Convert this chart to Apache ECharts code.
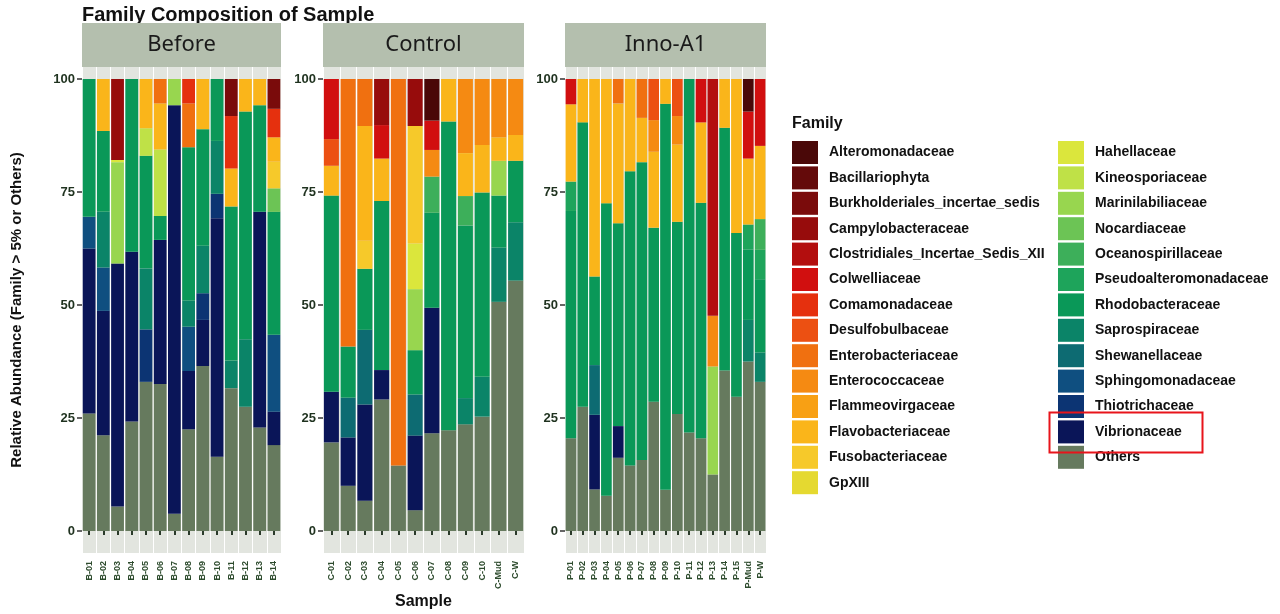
<!DOCTYPE html>
<html>
<head>
<meta charset="utf-8">
<script src="https://cdn.jsdelivr.net/npm/echarts@6/dist/echarts.min.js"></script>
<style>
html,body{margin:0;padding:0;background:#fff;}
#chart{width:1280px;height:614px;}
</style>
</head>
<body>
<div id="chart"></div>
<script>
// ---------- DATA ----------
const families = ['Alteromonadaceae','Bacillariophyta','Burkholderiales_incertae_sedis','Campylobacteraceae','Clostridiales_Incertae_Sedis_XII','Colwelliaceae','Comamonadaceae','Desulfobulbaceae','Enterobacteriaceae','Enterococcaceae','Flammeovirgaceae','Flavobacteriaceae','Fusobacteriaceae','GpXIII','Hahellaceae','Kineosporiaceae','Marinilabiliaceae','Nocardiaceae','Oceanospirillaceae','Pseudoalteromonadaceae','Rhodobacteraceae','Saprospiraceae','Shewanellaceae','Sphingomonadaceae','Thiotrichaceae','Vibrionaceae','Others'];
const familyCodes = ['Alte','Baci','Burk','Camp','Clos','Colw','Coma','Desu','Ente','Entc','Flam','Flav','Fuso','GpX','Hahe','Kine','Mari','Noca','Ocea','Pseu','Rhod','Sapr','Shew','Sphi','Thio','Vib','Oth'];
const familyColors = ['#4a0808','#640a0a','#7a0b0b','#970c0c','#b30e0e','#d10f0f','#e5300e','#ec5012','#f07010','#f58a12','#f8a014','#fab51a','#f6c92a','#e5d930','#dbe63c','#bfe147','#98d64f','#6cc455','#3daf5a','#1ea45b','#0a9858','#0b8468','#0d6b72','#0f4f80','#0c3473','#0a1558','#667a5e'];

const panelNames = ['Before','Control','Inno-A1'];

const beforeSamples = ['B-01','B-02','B-03','B-04','B-05','B-06','B-07','B-08','B-09','B-10','B-11','B-12','B-13','B-14'];
const controlSamples = ['C-01','C-02','C-03','C-04','C-05','C-06','C-07','C-08','C-09','C-10','C-Mud','C-W'];
const innoSamples = ['P-01','P-02','P-03','P-04','P-05','P-06','P-07','P-08','P-09','P-10','P-11','P-12','P-13','P-14','P-15','P-Mud','P-W'];

// each bar: [familyCode, percent] segments
const beforeBars = [
  [['Oth',26],['Vib',36.5],['Sphi',7],['Rhod',30.5]],
  [['Oth',21.2],['Vib',27.5],['Sphi',9.6],['Sapr',12.3],['Rhod',17.9],['Flav',11.5]],
  [['Oth',5.4],['Vib',53.8],['Hahe',0.5],['Mari',22.4],['Camp',17.9]],
  [['Oth',24.2],['Vib',37.6],['Rhod',38.2]],
  [['Oth',33],['Thio',11.6],['Sapr',13.5],['Rhod',24.9],['Kine',6.1],['Flav',10.9]],
  [['Oth',32.5],['Vib',31.9],['Rhod',5.3],['Kine',14.7],['Flav',10.2],['Ente',5.4]],
  [['Oth',3.8],['Vib',90.4],['Mari',5.8]],
  [['Oth',22.5],['Vib',12.9],['Sphi',9.8],['Sapr',5.8],['Rhod',33.9],['Ente',9.7],['Coma',5.4]],
  [['Oth',36.5],['Vib',10.2],['Thio',5.9],['Sapr',10.5],['Rhod',25.8],['Flav',11.1]],
  [['Oth',16.4],['Vib',52.8],['Thio',5.4],['Sapr',11.7],['Rhod',13.7]],
  [['Oth',31.6],['Sapr',6.1],['Rhod',34.1],['Flav',8.4],['Coma',11.6],['Burk',8.2]],
  [['Oth',27.5],['Sapr',14.9],['Rhod',50.4],['Flav',7.2]],
  [['Oth',22.9],['Vib',47.7],['Rhod',23.6],['Flav',5.8]],
  [['Oth',19],['Vib',7.4],['Sphi',17],['Rhod',27.2],['Noca',5.2],['Fuso',5.9],['Flav',5.4],['Coma',6.3],['Burk',6.6]]
];
const controlBars = [
  [['Oth',19.6],['Vib',11.2],['Rhod',43.4],['Flav',6.6],['Desu',5.9],['Colw',13.3]],
  [['Oth',10],['Vib',10.7],['Shew',8.8],['Rhod',11.3],['Ente',59.2]],
  [['Oth',6.7],['Vib',21.3],['Shew',16.5],['Rhod',13.5],['Fuso',6.2],['Flav',25.4],['Ente',10.4]],
  [['Oth',29.1],['Vib',6.5],['Rhod',37.4],['Flav',9.4],['Colw',7.4],['Camp',10.2]],
  [['Oth',14.5],['Ente',85.5]],
  [['Oth',4.6],['Vib',16.5],['Shew',9.1],['Rhod',9.8],['Mari',13.5],['Hahe',10.1],['Fuso',26],['Camp',10.4]],
  [['Oth',21.6],['Vib',27.8],['Rhod',21],['Ocea',8],['Entc',5.9],['Colw',6.5],['Alte',9.2]],
  [['Oth',22.3],['Rhod',68.3],['Flav',9.4]],
  [['Oth',23.6],['Sapr',5.8],['Rhod',38.2],['Ocea',6.5],['Flav',9.5],['Entc',16.4]],
  [['Oth',25.3],['Sapr',8.8],['Rhod',40.8],['Flav',10.5],['Entc',14.6]],
  [['Oth',50.7],['Sapr',12],['Rhod',11.5],['Mari',7.7],['Flav',5.2],['Entc',12.9]],
  [['Oth',55.4],['Sapr',12.9],['Rhod',13.6],['Flav',5.7],['Entc',12.4]]
];
const innoBars = [
  [['Oth',20.5],['Rhod',50.3],['Pseu',6.5],['Flav',17.1],['Colw',5.6]],
  [['Oth',27.5],['Rhod',62.9],['Flav',9.6]],
  [['Oth',9.2],['Vib',16.5],['Shew',11],['Rhod',19.6],['Flav',43.7]],
  [['Oth',7.8],['Rhod',64.7],['Flav',27.5]],
  [['Oth',16.2],['Vib',7],['Rhod',44.9],['Flav',26.5],['Ente',5.4]],
  [['Oth',14.5],['Rhod',65.1],['Flav',20.4]],
  [['Oth',15.7],['Rhod',65.9],['Flav',9.8],['Ente',8.6]],
  [['Oth',28.6],['Rhod',38.5],['Flav',16.8],['Entc',7],['Desu',9.1]],
  [['Oth',9.1],['Rhod',85.4],['Flav',5.5]],
  [['Oth',25.9],['Rhod',42.5],['Flav',17.1],['Entc',6.3],['Desu',8.2]],
  [['Oth',21.8],['Rhod',78.2]],
  [['Oth',20.5],['Rhod',52.1],['Flav',17.8],['Colw',9.6]],
  [['Oth',12.5],['Mari',23.9],['Entc',11.2],['Clos',52.4]],
  [['Oth',35.5],['Rhod',53.7],['Flav',10.8]],
  [['Oth',29.7],['Rhod',36.2],['Flav',34.1]],
  [['Oth',37.5],['Sapr',9.2],['Rhod',15.6],['Pseu',5.5],['Flav',14.6],['Colw',10.4],['Alte',7.2]],
  [['Oth',33],['Sapr',6.5],['Rhod',16.2],['Pseu',6.5],['Ocea',6.8],['Flav',16.2],['Colw',14.8]]
];

const yTicks = [0, 25, 50, 75, 100];

// ---------- LAYOUT ----------
const panels = [
  {samples: beforeSamples, bars: beforeBars, left: 82, width: 199},
  {samples: controlSamples, bars: controlBars, left: 323, width: 201},
  {samples: innoSamples, bars: innoBars, left: 565, width: 201}
];
const gridTop = 67, gridBottom = 61;
const labelColor = '#1f321f';
const baseFont = "'Liberation Sans', Arial, sans-serif";

const grids = [], xAxes = [], yAxes = [], series = [], graphics = [];
panels.forEach((p, pi) => {
  grids.push({left: p.left, width: p.width, top: gridTop, bottom: gridBottom, show: true,
    backgroundColor: '#e2e5df', borderWidth: 0, containLabel: false, outerBoundsMode: 'none'});
  xAxes.push({
    type: 'category', gridIndex: pi, data: p.samples,
    axisLine: {show: false},
    axisTick: {show: true, alignWithLabel: true, length: 4, lineStyle: {color: '#2a3a2a', width: 2}},
    axisLabel: {rotate: 90, fontSize: 9, fontWeight: 'bold', color: '#2d4b2d', margin: 8, fontFamily: baseFont},
    splitLine: {show: true, interval: 0, lineStyle: {color: '#ffffff', width: 1}},
    name: pi === 1 ? 'Sample' : '', nameLocation: 'middle', nameGap: 41, nameMoveOverlap: false,
    nameTextStyle: {fontSize: 16, fontWeight: 'bold', color: '#111', fontFamily: baseFont}
  });
  yAxes.push({
    type: 'value', gridIndex: pi, min: -4.87, max: 102.65,
    axisLine: {show: false},
    axisTick: {show: true, customValues: yTicks, length: 5, lineStyle: {color: '#333', width: 1.5}},
    axisLabel: {customValues: yTicks, fontSize: 13, fontWeight: 'bold', color: labelColor, margin: 7, fontFamily: baseFont},
    splitLine: {show: false},
    name: pi === 0 ? 'Relative Abundance (Family > 5% or Others)' : '',
    nameLocation: 'middle', nameGap: 58, nameMoveOverlap: false,
    nameTextStyle: {fontSize: 15, fontWeight: 'bold', color: '#111', fontFamily: baseFont}
  });
  // stacked series, bottom (Others) to top (Alteromonadaceae)
  for (let fi = families.length - 1; fi >= 0; fi--) {
    const code = familyCodes[fi];
    const data = p.bars.map(bar => {
      const seg = bar.find(s => s[0] === code);
      return seg ? seg[1] : '-';
    });
    series.push({
      name: families[fi], type: 'bar', stack: 'panel' + pi,
      xAxisIndex: pi, yAxisIndex: pi, barCategoryGap: '10%',
      itemStyle: {color: familyColors[fi]},
      emphasis: {disabled: true},
      data: data
    });
  }
  // facet strip
  graphics.push({type: 'rect', left: p.left, top: 23, z: 100,
    shape: {width: p.width, height: 44}, style: {fill: '#b4bfae'}});
  graphics.push({type: 'text', z: 101, x: p.left + p.width / 2, y: 45,
    style: {text: panelNames[pi], fill: '#1a1a1a', font: "22px 'Noto Sans', sans-serif",
      textAlign: 'center', textVerticalAlign: 'middle'}});
});

// highlight box around Vibrionaceae legend entry
graphics.push({type: 'rect', left: 1047, top: 410, z: 100,
  shape: {width: 153, height: 40}, style: {fill: 'none', stroke: '#e8141b', lineWidth: 2}});

const legendCommon = {
  orient: 'vertical', itemWidth: 26, itemHeight: 23, itemGap: 2.4, padding: 0,
  icon: 'rect', selectedMode: false,
  textStyle: {fontSize: 14, fontWeight: 'bold', color: '#111', fontFamily: baseFont, padding: [0, 0, 0, 6]}
};

const option = {
  animation: false,
  backgroundColor: '#ffffff',
  title: [
    {text: 'Family Composition of Sample', left: 82, top: 5, padding: 0, z: 1,
      textStyle: {fontSize: 20, fontWeight: 'bold', color: '#111', fontFamily: baseFont}},
    {text: 'Family', left: 792, top: 116, padding: 0,
      textStyle: {fontSize: 16, fontWeight: 'bold', color: '#111', fontFamily: baseFont}}
  ],
  grid: grids,
  xAxis: xAxes,
  yAxis: yAxes,
  legend: [
    Object.assign({left: 792, top: 141, data: families.slice(0, 14)}, legendCommon),
    Object.assign({left: 1058, top: 141, data: families.slice(14)}, legendCommon)
  ],
  graphic: graphics,
  series: series
};

const chart = echarts.init(document.getElementById('chart'), null, {renderer: 'canvas'});
chart.setOption(option);
</script>
</body>
</html>
